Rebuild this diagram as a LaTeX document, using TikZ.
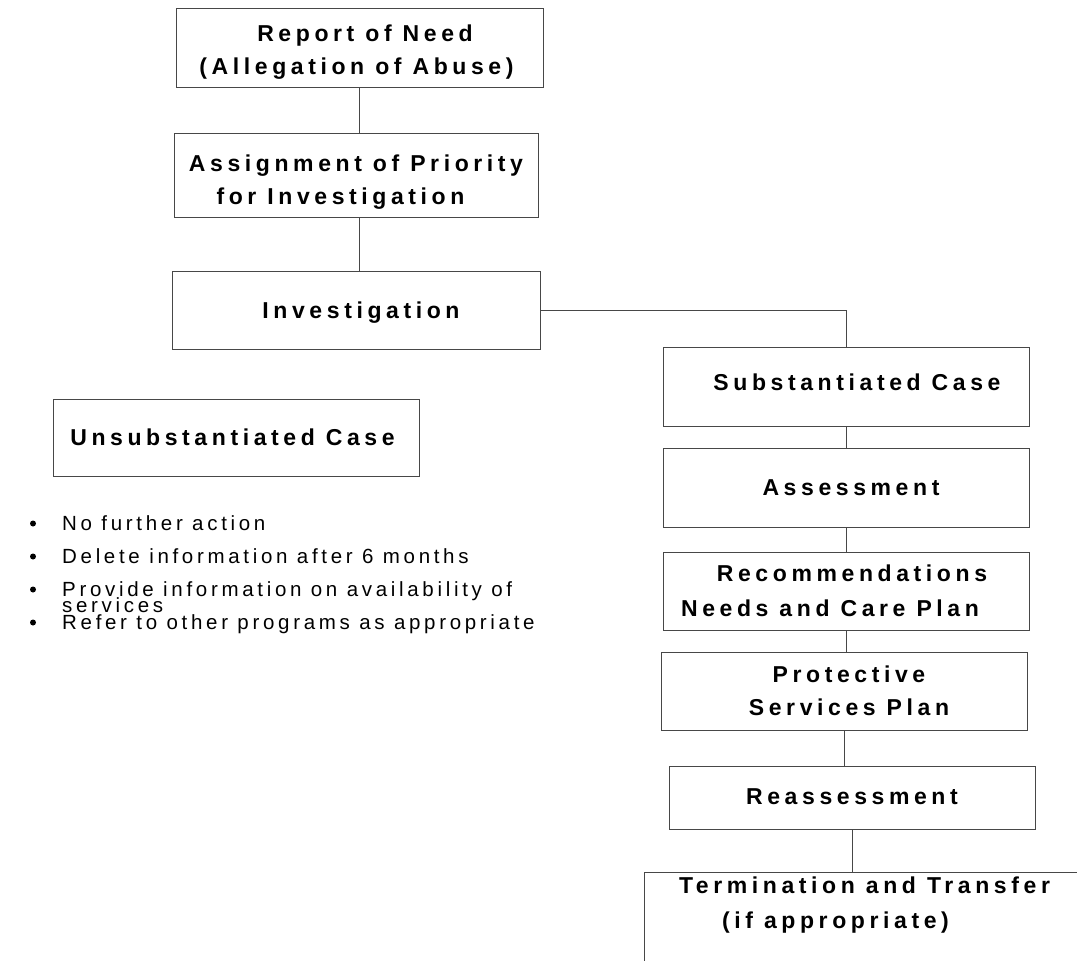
\documentclass[tikz,border=0pt]{standalone}
\usepackage{fontspec}
\setmainfont{Liberation Sans}
\newfontfamily\boxfont{Liberation Sans}[LetterSpace=20]
\newfontfamily\listfont{Liberation Sans}[LetterSpace=18]
\newcommand\mytightlines{\lineskiplimit=-50pt\relax\lineskip=0pt\relax}
\usetikzlibrary{calc}
\begin{document}
\begin{tikzpicture}[x=1pt,y=-1pt,
  line/.style={draw=black!72, line width=1pt},
  box/.style={line, rectangle, inner sep=0pt, align=center, minimum width=366pt,
    font=\boxfont\bfseries\fontsize{23}{32.5}\selectfont},
  item/.style={anchor=base west, inner sep=0pt, align=left,
    font=\listfont\fontsize{20.5}{16}\selectfont\mytightlines},
  dot/.style={circle, fill=black, inner sep=0pt, minimum size=6pt}
]
\useasboundingbox (0,0) rectangle (1077,961);
\clip (0,0) rectangle (1077,961);

% left column
\node[box, minimum width=367pt, minimum height=79pt, text height=53.5pt, text depth=0pt] (rep) at (359.5,47.5)
  {\hspace*{11pt}Report of Need\\(Allegation of Abuse)\hspace*{6pt}};
\node[box, minimum width=364pt, minimum height=84pt, text height=58.5pt, text depth=0pt] (asg) at (356,175)
  {Assignment of Priority\\for Investigation\hspace*{31pt}};
\node[box, minimum width=368pt, minimum height=78pt, text height=16.5pt, text depth=0pt] (inv) at (356,310)
  {\hspace*{10pt}Investigation};
\node[box, minimum height=77pt, text height=16.5pt, text depth=0pt] (uns) at (236,437.5)
  {Unsubstantiated Case\hspace*{7pt}};

% right column
\node[box, minimum height=79pt, text height=7.5pt, text depth=0pt] (sub) at (846,386.5)
  {\hspace*{22pt}Substantiated Case};
\node[box, minimum height=79pt, text height=16.5pt, text depth=0pt] (ass) at (846,487.5)
  {\hspace*{10pt}Assessment};
\node[box, minimum height=78pt] (rec) at (846,591)
  {\hspace*{12pt}Recommendations\\[3pt]Needs and Care Plan\hspace*{32pt}};
\node[box, minimum height=78pt] (pro) at (844,691)
  {\hspace*{10pt}Protective\\\hspace*{10pt}Services Plan};
\node[box, minimum height=63pt, text height=13.5pt, text depth=0pt] (rea) at (852,797.5)
  {Reassessment};
\node[line, rectangle, anchor=north west, minimum width=470pt, minimum height=150pt] (terbox) at (644,872) {};
\node[box, draw=none] (ter) at (850,905)
  {\hspace*{29pt}Termination and Transfer\\[3pt](if appropriate)\hspace*{29pt}};

% connectors
\draw[line] (rep.south) -- (rep.south |- asg.north);
\draw[line] (asg.south -| rep.south) -- (inv.north -| rep.south);
\draw[line] (inv.east) -| (sub.north);
\draw[line] ($(inv.south west)+(37,0)$) -- ($(inv.south west)+(37,0)$ |- uns.north);
\draw[line] (sub.south) -- (ass.north);
\draw[line] (ass.south) -- (rec.north);
\draw[line] (rec.south) -- (rec.south |- pro.north);
\draw[line] (pro.south) -- (pro.south |- rea.north);
\draw[line] (rea.south) -- (rea.south |- terbox.north);

% bullet list
\node[dot] (b1) at (33,523.5) {};
\node[item] (t1) at (62,530) {No further action};
\node[dot] (b2) at (33,556.5) {};
\node[item] (t2) at (62,563) {Delete information after 6 months};
\node[dot] (b3) at (33,589.5) {};
\node[item] (t3) at (62,612) {Provide information on availability of\\services};
\node[dot] (b4) at (33,622.5) {};
\node[item] (t4) at (62,629) {Refer to other programs as appropriate};
\end{tikzpicture}
\end{document}
